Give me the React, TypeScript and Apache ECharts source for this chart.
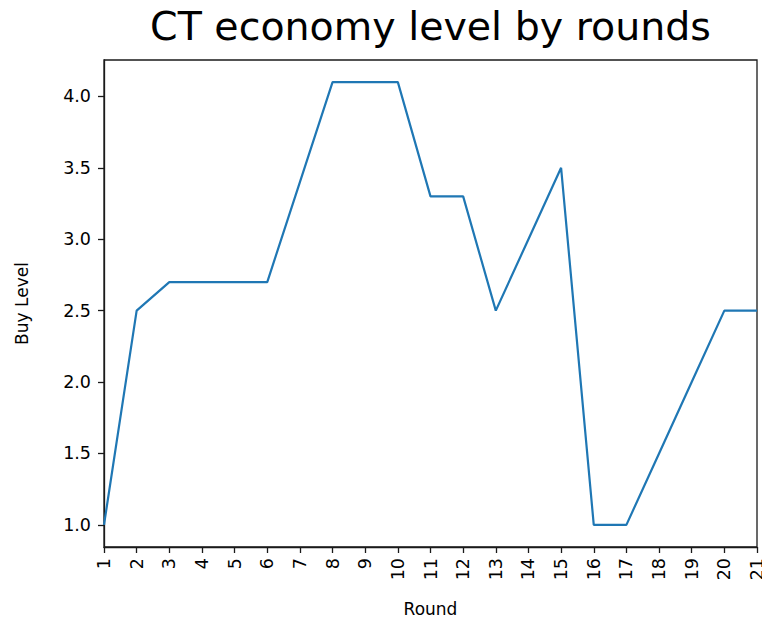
import React, { useEffect, useRef } from "react";
import * as echarts from "echarts";

// Buy level of the CT side, one value per round
const rounds = [1, 2, 3, 4, 5, 6, 7, 8, 9, 10, 11, 12, 13, 14, 15, 16, 17, 18, 19, 20, 21];
const buyLevel = [1.0, 2.5, 2.7, 2.7, 2.7, 2.7, 3.4, 4.1, 4.1, 4.1, 3.3, 3.3, 2.5, 3.0, 3.5, 1.0, 1.0, 1.5, 2.0, 2.5, 2.5];
const yTicks = [1.0, 1.5, 2.0, 2.5, 3.0, 3.5, 4.0];

const FONT = "'DejaVu Sans', sans-serif";

export default function App() {
  const ref = useRef<HTMLDivElement>(null);

  useEffect(() => {
    if (!ref.current) return;
    const chart = echarts.init(ref.current, undefined, { renderer: "svg" });
    const yMin = 1.0 - 0.05 * 3.1;
    const yMax = 4.1 + 0.05 * 3.1;
    chart.setOption({
      animation: false,
      backgroundColor: "#ffffff",
      graphic: [
        {
          type: "text",
          x: 430.5,
          y: 26,
          style: {
            text: "CT economy level by rounds",
            font: `39.5px ${FONT}`,
            fill: "#000000",
            textAlign: "center",
            textVerticalAlign: "middle",
          },
        },
      ],
      grid: {
        left: 104,
        right: 5,
        top: 60,
        bottom: 75,
        show: true,
        borderColor: "#1a1a1a",
        borderWidth: 1.3,
        outerBoundsMode: "none",
        containLabel: false,
      },
      xAxis: {
        type: "value",
        min: 1,
        max: 21,
        interval: 1,
        name: "Round",
        nameLocation: "middle",
        nameGap: 53,
        nameTextStyle: { fontFamily: FONT, fontSize: 17, color: "#000" },
        axisLine: { show: true, lineStyle: { color: "#1a1a1a", width: 1.3 } },
        axisTick: { show: true, length: 6, lineStyle: { color: "#1a1a1a", width: 1.3 } },
        axisLabel: {
          rotate: 90,
          margin: 11,
          fontFamily: FONT,
          fontSize: 17.5,
          color: "#000",
          showMinLabel: true,
          showMaxLabel: true,
          hideOverlap: false,
        },
        splitLine: { show: false },
      },
      yAxis: {
        type: "value",
        min: yMin,
        max: yMax,
        name: "Buy Level",
        nameLocation: "middle",
        nameGap: 74,
        nameRotate: 90,
        nameTextStyle: { fontFamily: FONT, fontSize: 17, color: "#000" },
        axisLine: { show: true, lineStyle: { color: "#1a1a1a", width: 1.3 } },
        axisTick: {
          show: true,
          length: 6,
          customValues: yTicks,
          lineStyle: { color: "#1a1a1a", width: 1.3 },
        },
        axisLabel: {
          customValues: yTicks,
          margin: 13,
          fontFamily: FONT,
          fontSize: 17.5,
          color: "#000",
          formatter: (v: number) => v.toFixed(1),
        },
        splitLine: { show: false },
      },
      series: [
        {
          type: "line",
          data: rounds.map((r, i) => [r, buyLevel[i]]),
          showSymbol: false,
          symbol: "none",
          lineStyle: { color: "#1f77b4", width: 2.2 },
          clip: true,
        },
      ],
    });
    return () => chart.dispose();
  }, []);

  return (
    <div
      ref={ref}
      style={{ position: "fixed", left: 0, top: 0, width: 762, height: 622 }}
    />
  );
}
